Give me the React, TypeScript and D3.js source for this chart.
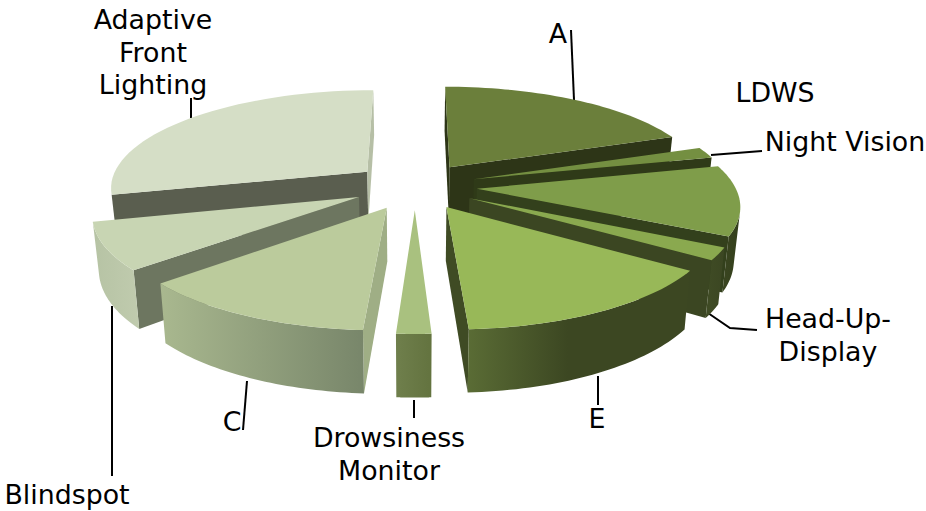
import React from "react";
import * as d3 from "d3";

const categories = ["A", "Night Vision", "LDWS", "Head-Up-Display", "E", "Drowsiness Monitor", "C", "Blindspot", "Adaptive Front Lighting"];
const shares = [19.4, 1.8, 11.3, 2.0, 14.65, 1.8, 12.65, 7.6, 28.8];

const topColors = ["#6b7f3b", "#748f41", "#7f9d4a", "#8aa94f", "#98b858", "#a9c17f", "#bbcb9c", "#c8d5b3", "#d5dec6"];
const endWallColors = ["#2d3517", "#2f3a18", "#33401c", "#3b4622", "#3f4b24", "#6a7a47", "#9fae85", "#6d7660", "#b6bfa6"];
const startWallColors = ["#2d3517", "#2f3a18", "#33401c", "#3b4622", "#3b4622", "#6a7a47", "#9fae85", "#6d7660", "#5a5e4f"];
const stripLeft = ["#3a4520", "#3a4520", "#3a4520", "#404c25", "#5a6c35", "#6f7f4c", "#a9b88f", "#b6c3a4", "#b6bfa6"];
const stripRight = ["#3a4520", "#3a4520", "#333f1c", "#3b4622", "#3c4722", "#63733f", "#78866a", "#c0cbae", "#b6bfa6"];

const labelLines: { lines: string[]; x: number; y: number; anchor: string; leader?: [number, number][] }[] = [
  { lines: ["A"], x: 558, y: 43, anchor: "middle", leader: [[571, 30], [574, 100]] },
  { lines: ["LDWS"], x: 775, y: 102, anchor: "middle" },
  { lines: ["Night Vision"], x: 845, y: 151, anchor: "middle", leader: [[711, 155], [762, 151]] },
  { lines: ["Head-Up-", "Display"], x: 828, y: 328, anchor: "middle", leader: [[708, 313], [730, 328], [757, 330]] },
  { lines: ["E"], x: 597, y: 428, anchor: "middle", leader: [[598, 376], [598, 405]] },
  { lines: ["Drowsiness", "Monitor"], x: 389, y: 447, anchor: "middle", leader: [[414, 400], [414, 418]] },
  { lines: ["C"], x: 232, y: 431, anchor: "middle", leader: [[247, 381], [243, 430]] },
  { lines: ["Blindspot"], x: 67, y: 504, anchor: "middle", leader: [[112, 306], [112, 476]] },
  { lines: ["Adaptive", "Front", "Lighting"], x: 153, y: 29, anchor: "middle", leader: [[191, 98], [191, 118]] },
];

const W = 926, H = 511;
const cx = 415, cy = 186;
const R = 258, explode = 62;
const tilt = 0.378, persp = 0.00057, thickness = 52, converge = 0.98;

type P = [number, number];
const sc = (Y: number) => 1 / (1 - persp * Y);
const topPt = (X: number, Y: number): P => [cx + X * sc(Y), cy + tilt * Y * sc(Y)];
const botPt = (X: number, Y: number): P => [cx + X * sc(Y) * converge, cy + tilt * Y * sc(Y) + thickness * sc(Y)];
const area = (q: P[]) => -d3.polygonArea(q);
const line = d3.line<P>().x((d) => d[0]).y((d) => d[1]);
const closed = (q: P[]) => (line(q) ?? "") + "Z";

const arcs = d3.pie<number>().sort(null).value((d) => d)(shares);

const slices = arcs.map((a, i) => {
  const mid = (a.startAngle + a.endAngle) / 2;
  const ox = explode * Math.sin(mid), oy = -explode * Math.cos(mid);
  const rim = (t: number): [number, number] => [ox + R * Math.sin(t), oy - R * Math.cos(t)];
  const angles = d3.range(0, 41).map((k) => a.startAngle + ((a.endAngle - a.startAngle) * k) / 40);
  const topFace: P[] = [topPt(ox, oy), ...angles.map((t) => topPt(...rim(t)))];
  const wall = (t: number): P[] => [topPt(ox, oy), topPt(...rim(t)), botPt(...rim(t)), botPt(ox, oy)];
  const startWall = wall(a.startAngle);
  const endWall = wall(a.endAngle);
  const vis = angles.filter((t, k) => {
    const n = Math.min(k + 1, 40);
    const m = n - 1;
    return area([topPt(...rim(angles[m])), topPt(...rim(angles[n])), botPt(...rim(angles[n])), botPt(...rim(angles[m]))]) < 0;
  });
  const strip: P[] = vis.length > 1 ? [...vis.map((t) => topPt(...rim(t))), ...vis.slice().reverse().map((t) => botPt(...rim(t)))] : [];
  const xs = strip.map((p) => p[0]);
  return {
    i, name: categories[i], order: -Math.cos(mid), topFace,
    startWall: area(startWall) < 0 ? startWall : null,
    endWall: area(endWall) > 0 ? endWall : null,
    strip, x0: d3.min(xs) ?? 0, x1: d3.max(xs) ?? 1,
  };
}).sort((p, q) => d3.ascending(p.order, q.order));

export default function App() {
  return (
    <svg width={W} height={H} style={{ position: "absolute", left: 0, top: 0, background: "#fff" }} fontFamily="'DejaVu Sans', Verdana, sans-serif" fontSize={26.8}>
      <defs>
        {slices.map((s) => (
          <linearGradient key={s.i} id={`g${s.i}`} gradientUnits="userSpaceOnUse" x1={s.x0} x2={s.x1} y1={0} y2={0}>
            <stop offset="0" stopColor={stripLeft[s.i]} />
            <stop offset={s.i === 4 ? 0.45 : 1} stopColor={stripRight[s.i]} />
            <stop offset="1" stopColor={stripRight[s.i]} />
          </linearGradient>
        ))}
      </defs>
      {labelLines.filter((l) => l.leader).map((l) => (
        <path key={l.lines[0]} d={line(l.leader as P[]) ?? ""} fill="none" stroke="#000" strokeWidth={2} />
      ))}
      {slices.map((s) => (
        <g key={s.i}>
          {s.startWall && <path d={closed(s.startWall)} fill={startWallColors[s.i]} />}
          {s.endWall && <path d={closed(s.endWall)} fill={endWallColors[s.i]} />}
          {s.strip.length > 0 && <path d={closed(s.strip)} fill={`url(#g${s.i})`} />}
          <path d={closed(s.topFace)} fill={topColors[s.i]} />
        </g>
      ))}
      {labelLines.map((l) => (
        <text key={l.lines[0]} x={l.x} y={l.y} textAnchor={l.anchor} fill="#000">
          {l.lines.map((t, k) => (
            <tspan key={t} x={l.x} dy={k === 0 ? 0 : 32.5}>{t}</tspan>
          ))}
        </text>
      ))}
    </svg>
  );
}
